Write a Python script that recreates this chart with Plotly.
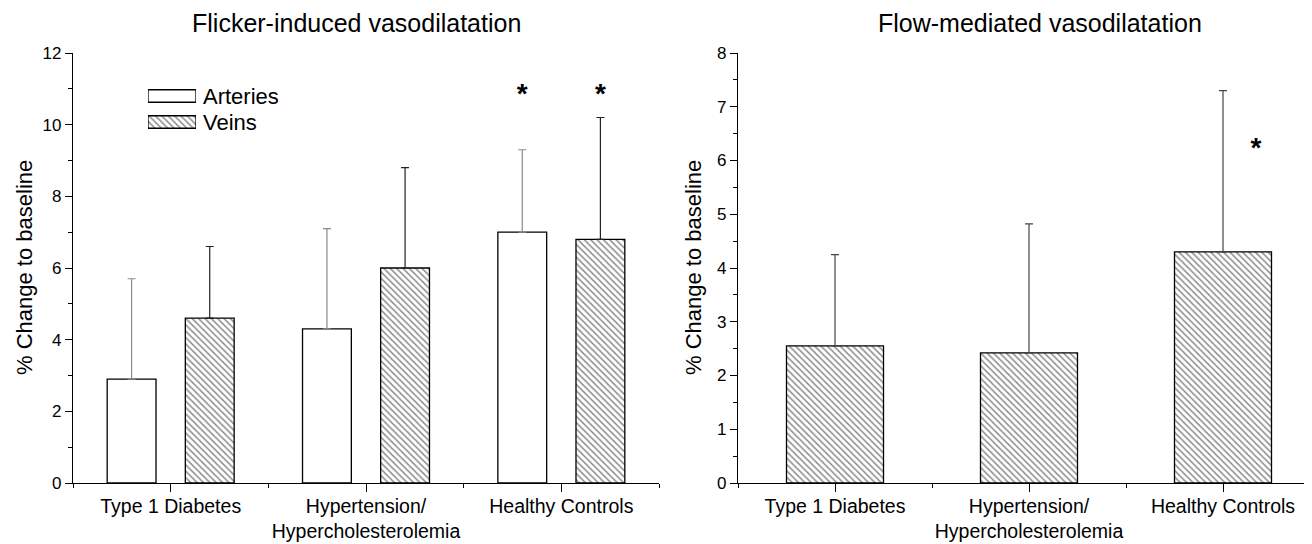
import plotly.graph_objects as go

# ---- data ----
categories = ["Type 1 Diabetes", "Hypertension/<br>Hypercholesterolemia", "Healthy Controls"]
series_names = ["Arteries", "Veins"]
arteries_mean = [2.9, 4.3, 7.0]
arteries_sd = [2.8, 2.8, 2.3]
veins_mean = [4.6, 6.0, 6.8]
veins_sd = [2.0, 2.8, 3.4]
fmd_mean = [2.55, 2.42, 4.3]
fmd_sd = [1.7, 2.4, 3.0]
# significance markers (asterisks)
fiv_sig_arteries = [None, None, 10.8]
fiv_sig_veins = [None, None, 10.8]
fmd_sig = [None, None, 6.2]

W, H = 1312, 544
S = 8  # page body margin offset compensation
FONT = "Liberation Sans, Arial, sans-serif"
xs = list(range(len(categories)))
minor_vals = [i - 0.5 for i in range(len(categories) + 1)]

hatch = dict(shape="\\", fgcolor="#1a1a1a", bgcolor="white", size=4.5, solidity=0.33)
no_hatch = dict(shape="")
star_font = dict(size=28, color="black", family=FONT)
outline = dict(color="black", width=1.3)

fig = go.Figure()

# Left panel: Flicker-induced
fig.add_trace(go.Bar(
    x=xs, y=arteries_mean, width=0.25, offset=-0.325, name=series_names[0],
    marker=dict(color="white", line=outline),
    error_y=dict(type="data", symmetric=False, array=arteries_sd,
                 arrayminus=[0] * len(arteries_sd), color="#8a8a8a", thickness=1.2, width=4),
    xaxis="x", yaxis="y", showlegend=False))
fig.add_trace(go.Bar(
    x=xs, y=veins_mean, width=0.25, offset=0.075, name=series_names[1],
    marker=dict(color="white", pattern=hatch, line=outline),
    error_y=dict(type="data", symmetric=False, array=veins_sd,
                 arrayminus=[0] * len(veins_sd), color="#222222", thickness=1.2, width=4),
    xaxis="x", yaxis="y", showlegend=False))
fig.add_trace(go.Scatter(
    x=[x - 0.2 for x in xs], y=fiv_sig_arteries, mode="text", text=["<b>*</b>"] * len(xs),
    textfont=star_font, textposition="middle center",
    xaxis="x", yaxis="y", showlegend=False, hoverinfo="skip"))
fig.add_trace(go.Scatter(
    x=[x + 0.2 for x in xs], y=fiv_sig_veins, mode="text", text=["<b>*</b>"] * len(xs),
    textfont=star_font, textposition="middle center",
    xaxis="x", yaxis="y", showlegend=False, hoverinfo="skip"))

# Legend swatches (wide boxes, as in the original figure)
fig.add_trace(go.Bar(
    y=series_names, x=[1] * len(series_names), orientation="h", width=0.48,
    marker=dict(color="white", line=outline, pattern=dict(shape=["", "\\"], fgcolor="#1a1a1a",
                                                          bgcolor="white", size=4.5, solidity=0.33)),
    xaxis="x3", yaxis="y3", showlegend=False, hoverinfo="skip"))

# Right panel: Flow-mediated
fig.add_trace(go.Bar(
    x=xs, y=fmd_mean, width=0.5, name="FMD",
    marker=dict(color="white", pattern=hatch, line=outline),
    error_y=dict(type="data", symmetric=False, array=fmd_sd,
                 arrayminus=[0] * len(fmd_sd), color="#444444", thickness=1.2, width=4),
    xaxis="x2", yaxis="y2", showlegend=False))
fig.add_trace(go.Scatter(
    x=[x + 0.17 for x in xs], y=fmd_sig, mode="text", text=["<b>*</b>"] * len(xs),
    textfont=star_font, textposition="middle center",
    xaxis="x2", yaxis="y2", showlegend=False, hoverinfo="skip"))


def px(x):
    return (x - S) / W


def py(y):
    return 1 - (y - S) / H


ydom = [py(483), py(53)]
common_x = dict(
    tickmode="array", tickvals=xs, ticktext=categories,
    showline=True, linecolor="black", linewidth=1.3, mirror=False,
    ticks="outside", ticklen=8, tickwidth=1.3, tickcolor="black",
    minor=dict(tickmode="array", tickvals=minor_vals, ticks="outside", ticklen=4,
               tickwidth=1.3, tickcolor="black"),
    showgrid=False, zeroline=False, automargin=False, ticklabelstandoff=-3,
    tickfont=dict(family=FONT, size=19.5, color="black"),
)
common_y = dict(
    showline=True, linecolor="black", linewidth=1.3,
    ticks="outside", ticklen=7, tickwidth=1.3, tickcolor="black",
    showgrid=False, zeroline=False, automargin=False,
    tickfont=dict(family=FONT, size=17, color="black"),
)
hidden = dict(visible=False, showgrid=False, zeroline=False, fixedrange=True)

# legend rows: centers at y=96 and y=122 (26 px apart)
leg_row_h = 26
leg_top = 96 - leg_row_h / 2
leg_bot = leg_top + leg_row_h * len(series_names)

annotations = [
    dict(text="Flicker-induced vasodilatation", x=px(356), y=py(23), xref="paper", yref="paper",
         showarrow=False, font=dict(family=FONT, size=25, color="black"),
         xanchor="center", yanchor="middle"),
    dict(text="Flow-mediated vasodilatation", x=px(1040), y=py(23), xref="paper", yref="paper",
         showarrow=False, font=dict(family=FONT, size=25, color="black"),
         xanchor="center", yanchor="middle"),
    dict(text="% Change to baseline", x=px(24), y=(ydom[0] + ydom[1]) / 2, xref="paper", yref="paper",
         showarrow=False, textangle=-90, font=dict(family=FONT, size=22, color="black"),
         xanchor="center", yanchor="middle"),
    dict(text="% Change to baseline", x=px(693), y=(ydom[0] + ydom[1]) / 2, xref="paper", yref="paper",
         showarrow=False, textangle=-90, font=dict(family=FONT, size=22, color="black"),
         xanchor="center", yanchor="middle"),
]
for name in series_names:
    annotations.append(dict(text=name, x=px(201), y=name, xref="paper", yref="y3",
                            showarrow=False, font=dict(family=FONT, size=22, color="black"),
                            xanchor="left", yanchor="middle"))

fig.update_layout(
    width=W, height=H,
    margin=dict(l=0, r=0, t=0, b=0, pad=0, autoexpand=False),
    paper_bgcolor="white", plot_bgcolor="white",
    barmode="overlay",
    font=dict(family=FONT, color="black"),
    showlegend=False,
    xaxis=dict(domain=[px(73), px(659)], range=[-0.5, 2.5], anchor="y", **common_x),
    yaxis=dict(domain=ydom, range=[0, 12], dtick=2, anchor="x",
               minor=dict(dtick=1, ticks="outside", ticklen=4, tickwidth=1.3, tickcolor="black"),
               **common_y),
    xaxis2=dict(domain=[px(738), 1.0], range=[-0.5, 2.5], anchor="y2", **common_x),
    yaxis2=dict(domain=ydom, range=[0, 8], dtick=1, anchor="x2",
                minor=dict(dtick=0.5, ticks="outside", ticklen=4, tickwidth=1.3, tickcolor="black"),
                **common_y),
    xaxis3=dict(domain=[px(148), px(196)], range=[0, 1], anchor="y3", **hidden),
    yaxis3=dict(domain=[py(leg_bot), py(leg_top)], range=[len(series_names) - 0.5, -0.5],
                type="category", categoryarray=series_names, anchor="x3", **hidden),
    annotations=annotations,
)

fig.write_html("out.html")
